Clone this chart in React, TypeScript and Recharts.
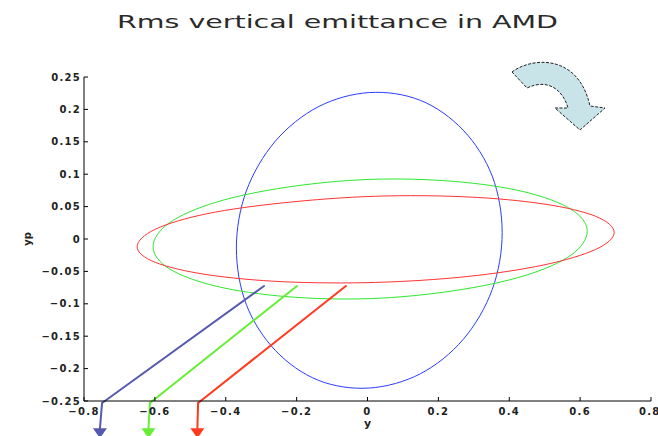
import { LineChart, Line, XAxis, YAxis, ReferenceLine, ReferenceDot } from 'recharts'

const xTicks = [-0.8, -0.6, -0.4, -0.2, 0, 0.2, 0.4, 0.6, 0.8]
const yTicks = [-0.25, -0.2, -0.15, -0.1, -0.05, 0, 0.05, 0.1, 0.15, 0.2, 0.25]

// ellipse outlines as [y, yp], going round each one
const blueEllipse = [
  [0.38, 0.01], [0.352, 0.097], [0.27, 0.168], [0.149, 0.214], [0.005, 0.226],
  [-0.139, 0.204], [-0.26, 0.151], [-0.342, 0.074], [-0.37, -0.014], [-0.342, -0.101],
  [-0.26, -0.172], [-0.139, -0.218], [0.005, -0.23], [0.149, -0.208], [0.27, -0.155],
  [0.352, -0.078],
]
const greenEllipse = [
  [0.62, 0.012], [0.574, 0.046], [0.441, 0.073], [0.242, 0.089], [0.008, 0.092],
  [-0.227, 0.08], [-0.426, 0.057], [-0.559, 0.025], [-0.605, -0.012], [-0.559, -0.046],
  [-0.426, -0.073], [-0.227, -0.089], [0.008, -0.092], [0.242, -0.08], [0.441, -0.057],
  [0.574, -0.025],
]
const redEllipse = [
  [0.696, 0.01], [0.644, 0.035], [0.498, 0.054], [0.28, 0.065], [0.023, 0.066],
  [-0.235, 0.056], [-0.453, 0.039], [-0.599, 0.015], [-0.65, -0.012], [-0.599, -0.036],
  [-0.453, -0.055], [-0.235, -0.066], [0.023, -0.067], [0.28, -0.058], [0.498, -0.04],
  [0.644, -0.016],
]

// the three arrows: start in the plot, bend at the axis, drop below it
const arrowStartX = [-0.292, -0.199, -0.061]
const arrowBendX = [-0.749, -0.614, -0.478]
const arrowDropX = [-0.755, -0.618, -0.48]
const arrowStartY = -0.0725
const arrowBendY = -0.253
const arrowHeadY = -0.292
const arrowColors = ['#5659b0', '#66ee33', '#ff3a1f']

const ellipses = [
  { name: 'blue', points: blueEllipse, color: '#2a3cff' },
  { name: 'green', points: greenEllipse, color: '#2ee62e' },
  { name: 'red', points: redEllipse, color: '#ff3333' },
]

// closed catmull-rom curve so each outline comes back smoothly onto itself
const closedSmooth = (context: any) => {
  let pts: number[][] = []
  return {
    areaStart() {},
    areaEnd() {},
    lineStart() {
      pts = []
    },
    point(x: number, y: number) {
      pts.push([+x, +y])
    },
    lineEnd() {
      const n = pts.length
      if (!n) return
      context.moveTo(pts[0][0], pts[0][1])
      for (let i = 0; i < n; i++) {
        const p0 = pts[(i - 1 + n) % n]
        const p1 = pts[i]
        const p2 = pts[(i + 1) % n]
        const p3 = pts[(i + 2) % n]
        context.bezierCurveTo(
          p1[0] + (p2[0] - p0[0]) / 6,
          p1[1] + (p2[1] - p0[1]) / 6,
          p2[0] - (p3[0] - p1[0]) / 6,
          p2[1] - (p3[1] - p1[1]) / 6,
          p2[0],
          p2[1],
        )
      }
      context.closePath()
    },
  }
}

const fmt = (v: number) => (v < 0 ? '\u2212' : '') + String(Math.abs(v))

const tickStyle = {
  fontSize: 10,
  fontFamily: 'DejaVu Sans',
  fontWeight: 'bold',
  letterSpacing: 1.3,
  fill: '#222',
}

const ArrowHead = (props: any) => {
  const { cx, cy, fill } = props
  return <path d={`M${cx - 7},${cy} L${cx + 7},${cy} L${cx},${cy + 10} Z`} fill={fill} />
}

export default function App() {
  return (
    <div style={{ position: 'absolute', left: 0, top: 0, width: 658, height: 436, background: '#fff', overflow: 'hidden' }}>
      <LineChart width={658} height={436} margin={{ top: 77, right: 7, bottom: 5, left: 24 }}>
        <XAxis
          dataKey="x"
          type="number"
          domain={[-0.8, 0.8]}
          ticks={xTicks}
          allowDataOverflow
          tickFormatter={fmt}
          tick={tickStyle}
          tickSize={-4}
          tickMargin={11}
          height={30}
          stroke="#000"
          label={{ value: 'y', position: 'insideBottom', offset: 4, fontSize: 11, fontFamily: 'DejaVu Sans', fontWeight: 'bold', fill: '#222' }}
        />
        <XAxis
          xAxisId="top"
          orientation="top"
          type="number"
          domain={[-0.8, 0.8]}
          ticks={xTicks}
          allowDataOverflow
          tick={false}
          tickSize={-4}
          height={0}
          stroke="#000"
        />
        <YAxis
          dataKey="y"
          type="number"
          domain={[-0.25, 0.25]}
          ticks={yTicks}
          allowDataOverflow
          tickFormatter={fmt}
          tick={tickStyle}
          tickSize={-4}
          tickMargin={7}
          width={60}
          stroke="#000"
          label={{
            value: 'yp',
            angle: -90,
            position: 'insideLeft',
            offset: 3,
            fontSize: 10,
            fontFamily: 'DejaVu Sans',
            fontWeight: 'bold',
            fill: '#222',
            style: { textAnchor: 'middle' },
          }}
        />
        <YAxis
          yAxisId="right"
          orientation="right"
          type="number"
          domain={[-0.25, 0.25]}
          ticks={yTicks}
          allowDataOverflow
          tick={false}
          tickSize={-4}
          width={0}
          stroke="#000"
        />
        {ellipses.map((e) => (
          <Line
            key={e.name}
            data={e.points.map(([x, y]) => ({ x, y }))}
            dataKey="y"
            type={closedSmooth as any}
            stroke={e.color}
            strokeWidth={1}
            dot={false}
            activeDot={false}
            isAnimationActive={false}
          />
        ))}
        {arrowColors.map((c, i) => (
          <ReferenceLine
            key={'d' + i}
            segment={[
              { x: arrowStartX[i], y: arrowStartY },
              { x: arrowBendX[i], y: arrowBendY },
            ]}
            stroke={c}
            strokeWidth={2}
            strokeLinecap="round"
            ifOverflow="visible"
          />
        ))}
        {arrowColors.map((c, i) => (
          <ReferenceLine
            key={'v' + i}
            segment={[
              { x: arrowBendX[i], y: arrowBendY },
              { x: arrowDropX[i], y: arrowHeadY },
            ]}
            stroke={c}
            strokeWidth={2}
            strokeLinecap="round"
            ifOverflow="visible"
          />
        ))}
        {arrowColors.map((c, i) => (
          <ReferenceDot
            key={'h' + i}
            x={arrowDropX[i]}
            y={arrowHeadY}
            fill={c}
            shape={ArrowHead}
            ifOverflow="visible"
          />
        ))}
      </LineChart>
      <svg width={658} height={436} style={{ position: 'absolute', left: 0, top: 0, pointerEvents: 'none' }}>
        <text
          x={117}
          y={28}
          textLength={441}
          lengthAdjust="spacingAndGlyphs"
          fontFamily="DejaVu Sans"
          fontSize={18}
          fill="#2a2a2a"
        >
          Rms vertical emittance in AMD
        </text>
        <path
          d="M512,72 C530,58 578,52 590,106 L605,108 L580,130 L555,108 L568,108 C563,90 548,78 527,88 Z"
          fill="#c8e4e8"
          stroke="#222"
          strokeWidth={1}
          strokeDasharray="3 1.5"
        />
      </svg>
    </div>
  )
}
